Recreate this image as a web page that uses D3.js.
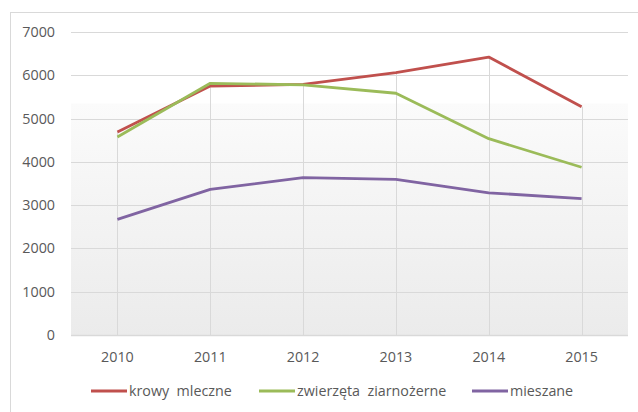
<!DOCTYPE html>
<html><head><meta charset="utf-8">
<script src="https://cdn.jsdelivr.net/npm/d3@7"></script>
<style>body{margin:0;background:#fff}svg{display:block}</style>
</head><body>
<svg id="c" width="638" height="412"></svg>
<script>
const years = ["2010","2011","2012","2013","2014","2015"];
const krowyMleczne = [4690, 5750, 5790, 6060, 6420, 5275];
const zwierzetaZiarnozerne = [4575, 5815, 5780, 5585, 4535, 3875];
const mieszane = [2670, 3365, 3635, 3595, 3285, 3150];
const yTicks = [0,1000,2000,3000,4000,5000,6000,7000];
const seriesNames = ["krowy  mleczne", "zwierzęta  ziarnożerne", "mieszane"];
const seriesColors = ["#C0504D", "#9BBB59", "#8064A2"];
const seriesData = [krowyMleczne, zwierzetaZiarnozerne, mieszane];

const svg = d3.select("#c");
const font = "'Open Sans', sans-serif";
const fs = 14.3;
const L = 71, R = 628, T = 32, B = 335;

// outer border
svg.append("rect").attr("x",10.5).attr("y",12.5).attr("width",700).attr("height",500)
  .attr("fill","#fff").attr("stroke","#d9d9d9").attr("stroke-width",1);

const defs = svg.append("defs");
const g = defs.append("linearGradient").attr("id","bg").attr("x1",0).attr("y1",0).attr("x2",0).attr("y2",1);
g.append("stop").attr("offset","0%").attr("stop-color","#fbfbfb");
g.append("stop").attr("offset","100%").attr("stop-color","#ebebeb");

const x = d3.scaleBand().domain(years).range([L,R]).padding(0);
const y = d3.scaleLinear().domain([0,7000]).range([B,T]);
const cx = d => x(d) + x.bandwidth()/2;

svg.append("rect").attr("x",L).attr("y",y(5000)-15).attr("width",R-L).attr("height",B-(y(5000)-15)).attr("fill","url(#bg)");

// horizontal grid
svg.append("g").selectAll("line").data(yTicks.filter(d=>d>0)).join("line")
  .attr("x1",L).attr("x2",R).attr("y1",d=>Math.round(y(d))+0.5).attr("y2",d=>Math.round(y(d))+0.5)
  .attr("stroke","#d9d9d9").attr("stroke-width",1);
// drop lines (from highest series value down to axis)
svg.append("g").selectAll("line").data(years).join("line")
  .attr("x1",d=>Math.round(cx(d))+0.5).attr("x2",d=>Math.round(cx(d))+0.5)
  .attr("y1",(d,i)=>y(d3.max(seriesData, s=>s[i]))).attr("y2",B)
  .attr("stroke","#d9d9d9").attr("stroke-width",1);
// base axis line
svg.append("line").attr("x1",L).attr("x2",R).attr("y1",B+0.5).attr("y2",B+0.5).attr("stroke","#d9d9d9").attr("stroke-width",1.5);

// y labels
svg.append("g").selectAll("text").data(yTicks).join("text")
  .attr("x",55).attr("y",d=>y(d)).attr("dy","0.35em").attr("text-anchor","end")
  .attr("font-family",font).attr("font-size",fs).attr("fill","#595959").text(d=>d);
// x labels
svg.append("g").selectAll("text").data(years).join("text")
  .attr("x",d=>cx(d)).attr("y",357).attr("dy","0.35em").attr("text-anchor","middle")
  .attr("font-family",font).attr("font-size",fs).attr("fill","#595959").text(d=>d);

// lines
const line = d3.line().x((d,i)=>cx(years[i])).y(d=>y(d));
seriesData.forEach((s,k)=>{
  svg.append("path").datum(s).attr("d",line).attr("fill","none")
    .attr("stroke",seriesColors[k]).attr("stroke-width",2.8).attr("stroke-linejoin","round");
});

// legend
const legX = [91, 259, 472];
const leg = svg.append("g").selectAll("g").data(seriesNames).join("g")
  .attr("transform",(d,i)=>`translate(${legX[i]},391)`);
leg.append("line").attr("x1",0).attr("x2",36).attr("y1",0).attr("y2",0)
  .attr("stroke",(d,i)=>seriesColors[i]).attr("stroke-width",3);
leg.append("text").attr("x",38).attr("y",0).attr("dy","0.35em")
  .attr("font-family",font).attr("font-size",fs).attr("fill","#595959")
  .attr("xml:space","preserve").style("white-space","pre").text(d=>d);
</script>
</body></html>
